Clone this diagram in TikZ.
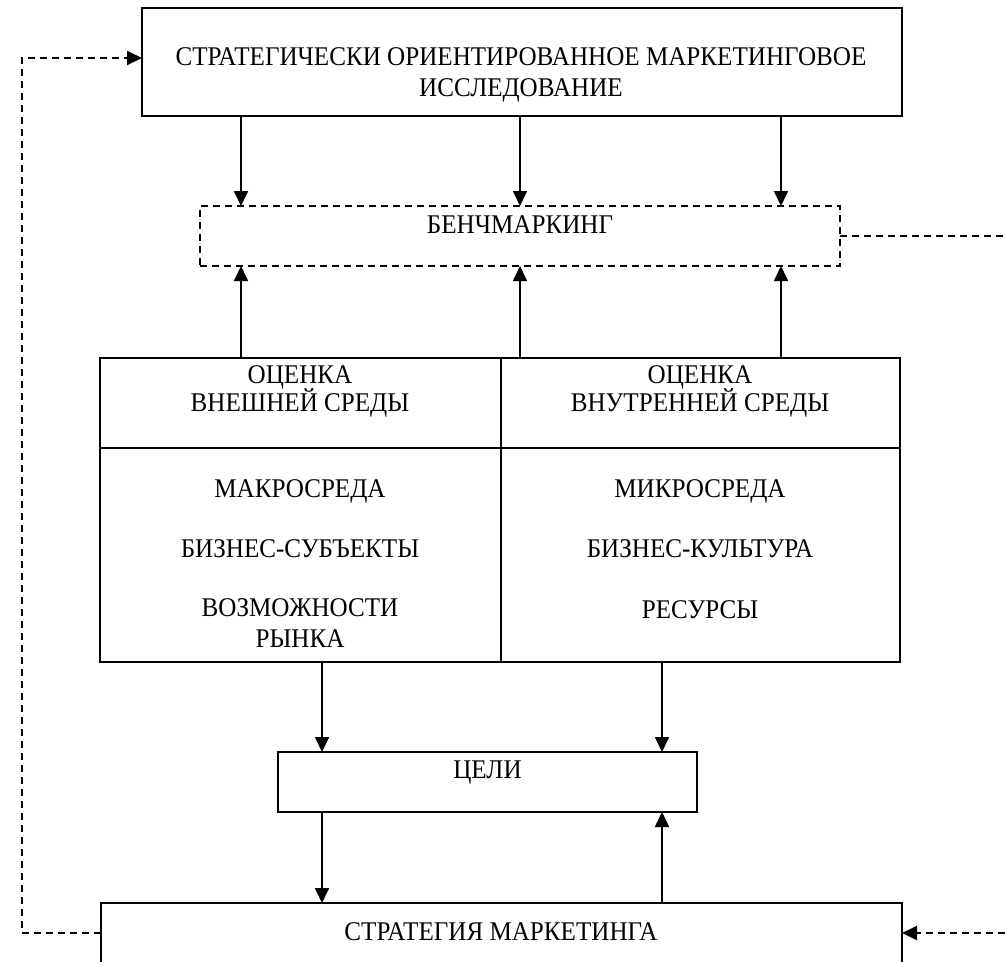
\documentclass[tikz,border=0pt]{standalone}
\usepackage{fontspec}
\setmainfont{Liberation Serif}[FakeStretch=0.93]
\usetikzlibrary{arrows.meta}
\begin{document}
\begin{tikzpicture}[x=1pt,y=-1pt,
  box/.style={draw,line width=2pt,inner sep=0pt,outer sep=0pt},
  dbox/.style={box,dash pattern=on 7pt off 5pt},
  lbl/.style={anchor=base,inner sep=0pt,font=\fontsize{27}{32}\selectfont},
  tip/.style={-{Triangle[length=15pt,width=14pt]}},
  arr/.style={line width=1.7pt,tip},
  darr/.style={line width=2pt,dash pattern=on 7pt off 5pt},
]
\useasboundingbox (0,0) rectangle (1005,962);
\clip (0,0) rectangle (1005,962);

% boxes
\node[box,minimum width=760pt,minimum height=108pt] (top) at (522,62) {};
\node[dbox,minimum width=640pt,minimum height=60pt] (bench) at (520,236) {};
\node[box,minimum width=401pt,minimum height=90pt] (exthead) at (300.5,403) {};
\node[box,minimum width=399pt,minimum height=90pt] (inthead) at (700.5,403) {};
\node[box,minimum width=401pt,minimum height=214pt] (extbody) at (300.5,555) {};
\node[box,minimum width=399pt,minimum height=214pt] (intbody) at (700.5,555) {};
\node[box,minimum width=419pt,minimum height=60pt] (goals) at (487.5,782) {};
\node[box,minimum width=801pt,minimum height=87pt] (strat) at (501.5,946.5) {};

% texts
\node[lbl] (t1) at (521,65) {СТРАТЕГИЧЕСКИ ОРИЕНТИРОВАННОЕ МАРКЕТИНГОВОЕ};
\node[lbl] (t2) at (521,96) {ИССЛЕДОВАНИЕ};
\node[lbl] (tb) at (520,233) {БЕНЧМАРКИНГ};
\node[lbl] (te1) at (300,383) {ОЦЕНКА};
\node[lbl] (te2) at (300,411) {ВНЕШНЕЙ СРЕДЫ};
\node[lbl] (ti1) at (700,383) {ОЦЕНКА};
\node[lbl] (ti2) at (700,411) {ВНУТРЕННЕЙ СРЕДЫ};
\node[lbl] (e1) at (300,497) {МАКРОСРЕДА};
\node[lbl] (e2) at (300,557) {БИЗНЕС-СУБЪЕКТЫ};
\node[lbl] (e3) at (300,616) {ВОЗМОЖНОСТИ};
\node[lbl] (e4) at (300,647) {РЫНКА};
\node[lbl] (i1) at (700,497) {МИКРОСРЕДА};
\node[lbl] (i2) at (700,557) {БИЗНЕС-КУЛЬТУРА};
\node[lbl] (i3) at (700,618) {РЕСУРСЫ};
\node[lbl] (tg) at (487.5,778) {ЦЕЛИ};
\node[lbl] (ts) at (501,940) {СТРАТЕГИЯ МАРКЕТИНГА};

% guide coordinates
\coordinate (xa) at (241,0);
\coordinate (xb) at (520,0);
\coordinate (xc) at (781,0);
\coordinate (xd) at (322,0);
\coordinate (xe) at (662,0);

% solid arrows
\draw[arr] (top.south -| xa) -- (bench.north -| xa);
\draw[arr] (top.south -| xb) -- (bench.north -| xb);
\draw[arr] (top.south -| xc) -- (bench.north -| xc);
\draw[arr] (exthead.north -| xa) -- (bench.south -| xa);
\draw[arr] (exthead.north -| xb) -- (bench.south -| xb);
\draw[arr] (inthead.north -| xc) -- (bench.south -| xc);
\draw[arr] (extbody.south -| xd) -- (goals.north -| xd);
\draw[arr] (intbody.south -| xe) -- (goals.north -| xe);
\draw[arr] (goals.south -| xd) -- (strat.north -| xd);
\draw[arr] (strat.north -| xe) -- (goals.south -| xe);

% dashed feedback lines
\coordinate (fb) at (22,933);
\coordinate (ft) at (22,58);
\draw[darr,tip] (strat.west |- fb) -- (fb) -- (ft) -- (top.west |- ft);
\coordinate (re) at (1005,236);
\draw[darr] (bench.east) -- (re);
\coordinate (rb) at (1005,933);
\draw[darr,tip] (rb) -- (strat.east |- rb);
\end{tikzpicture}
\end{document}
